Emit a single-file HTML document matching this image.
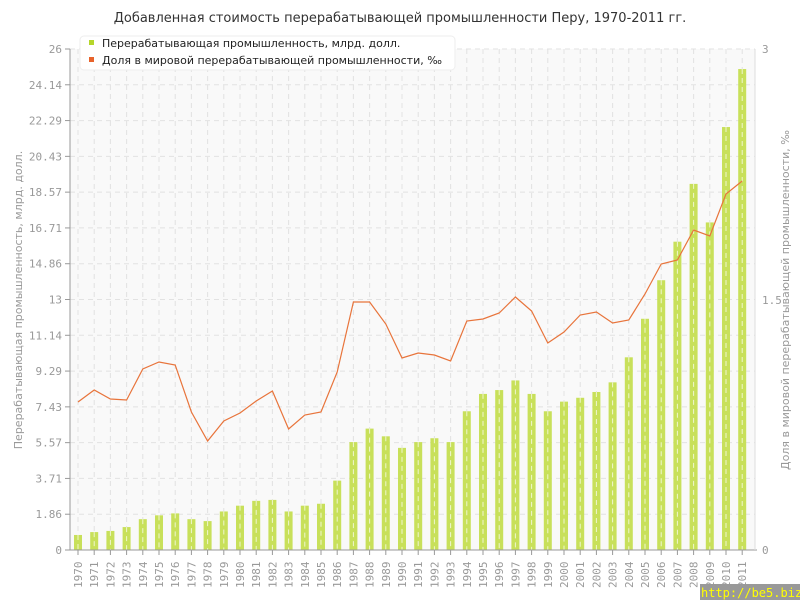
<!DOCTYPE html>
<html><head><meta charset="utf-8"><style>body{margin:0;background:#fff}svg{display:block}</style></head><body>
<svg id="s" width="800" height="600" xmlns="http://www.w3.org/2000/svg" font-family="DejaVu Sans Mono, Liberation Mono, monospace">
<text x="400" y="22" text-anchor="middle" font-family="DejaVu Sans, sans-serif" font-size="13" fill="#333">Добавленная стоимость перерабатывающей промышленности Перу, 1970-2011 гг.</text>
<rect x="70" y="49" width="685" height="501" fill="#f9f9f9"/>
<g id="grid" stroke="#e2e2e2" stroke-dasharray="5,4" stroke-width="1"></g>
<g id="bars"></g>
<polyline id="ln" fill="none" stroke="#e8743b" stroke-width="1.2"/>
<line x1="70" y1="49" x2="70" y2="550" stroke="#999"/>
<line x1="70" y1="550" x2="757" y2="550" stroke="#999"/>
<line x1="755" y1="49" x2="755" y2="550" stroke="#ddd"/>
<g id="lab" font-size="11" fill="#999"></g>
<text x="762" y="53" font-size="11" fill="#999">3</text>
<text x="762" y="304" font-size="11" fill="#999">1.5</text>
<text x="762" y="554" font-size="11" fill="#999">0</text>
<text transform="translate(22,300) rotate(-90)" text-anchor="middle" font-family="DejaVu Sans, sans-serif" font-size="11" fill="#999">Перерабатывающая промышленность, млрд. долл.</text>
<text transform="translate(789,300) rotate(-90)" text-anchor="middle" font-family="DejaVu Sans, sans-serif" font-size="11" fill="#999">Доля в мировой перерабатывающей промышленности, ‰</text>
<rect x="80" y="36" width="375" height="34" rx="4" fill="#fff" stroke="#eee"/>
<rect x="89" y="40" width="5" height="5" fill="#b5d62a"/>
<rect x="89" y="57" width="5" height="5" fill="#e8632b"/>
<text x="102" y="47" font-family="DejaVu Sans, sans-serif" font-size="11" fill="#222">Перерабатывающая промышленность, млрд. долл.</text>
<text x="102" y="64" font-family="DejaVu Sans, sans-serif" font-size="11" fill="#222">Доля в мировой перерабатывающей промышленности, ‰</text>
<rect x="700" y="584" width="100" height="16" fill="#999"/>
<text x="701" y="597" font-size="12" fill="#ff0">http://be5.biz/</text>
</svg>
<script>
var v=[0.78,0.93,0.99,1.19,1.6,1.8,1.9,1.6,1.5,2.0,2.3,2.55,2.6,2.0,2.3,2.4,3.6,5.6,6.3,5.9,5.3,5.6,5.8,5.6,7.2,8.1,8.3,8.8,8.1,7.2,7.7,7.9,8.2,8.7,10.0,12.0,14.0,16.0,19.0,17.0,21.95,24.96];
var l=[402,390,399,400,369,362,365,412,441,421,413,401,391,429,415,412,372,302,302,324,358,353,355,361,321,319,313,297,311,343,332,315,312,323,320,294,264,260,230,236,194,181];
var ns="http://www.w3.org/2000/svg",g=document.getElementById('grid'),b=document.getElementById('bars'),lb=document.getElementById('lab');
function el(t,a,p){var e=document.createElementNS(ns,t);for(var k in a)e.setAttribute(k,a[k]);p.appendChild(e);return e;}
var ticks=["0","1.86","3.71","5.57","7.43","9.29","11.14","13","14.86","16.71","18.57","20.43","22.29","24.14","26"];
var pts=[];
for(var i=0;i<42;i++){var x=78+i*16.2;el('line',{x1:x,y1:49,x2:x,y2:550},g);}
var step=501/14;
for(var i=0;i<15;i++){var y=550-i*step;if(i>0)el('line',{x1:70,y1:y,x2:755,y2:y},g);el('line',{x1:65,y1:y,x2:70,y2:y,stroke:'#999'},lb);var t=el('text',{x:62,y:y+4,'text-anchor':'end'},lb);t.textContent=ticks[i];}
for(var i=0;i<42;i++){var x=78+i*16.2,h=v[i]*501/26;
el('rect',{x:x-4,y:550-h,width:8,height:h,fill:'#c8e05a'},b);
el('line',{x1:x,y1:550-h,x2:x,y2:550,stroke:'#fff','stroke-dasharray':'5,4','stroke-opacity':0.7},b);
pts.push(x+','+l[i]);
el('line',{x1:x,y1:550,x2:x,y2:555,stroke:'#999'},lb);
var t=el('text',{transform:'translate('+(x+4)+',588) rotate(-90)'},lb);t.textContent=1970+i;}
document.getElementById('ln').setAttribute('points',pts.join(' '));
</script>
</body></html>
